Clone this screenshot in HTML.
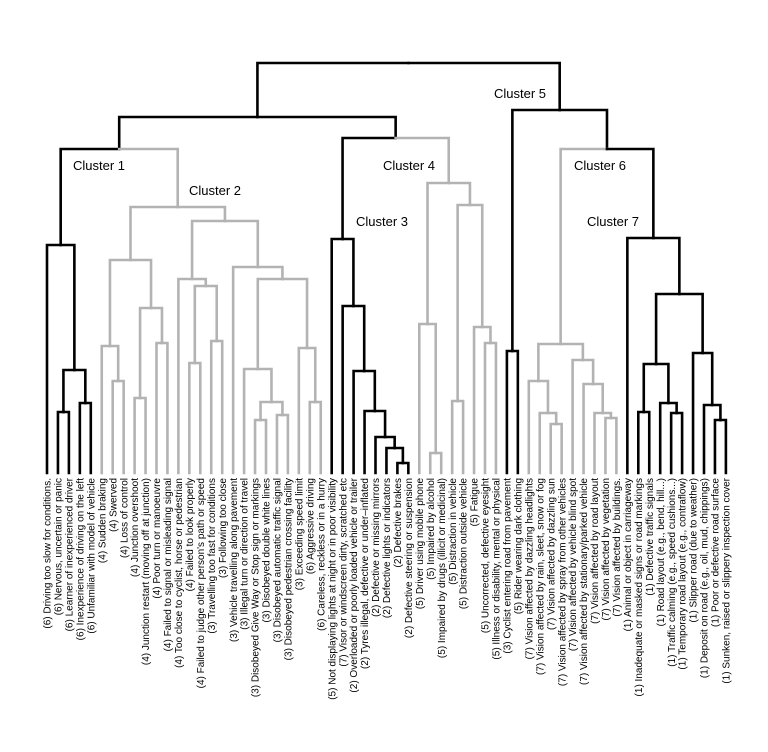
<!DOCTYPE html>
<html><head><meta charset="utf-8"><style>
html,body{margin:0;padding:0;background:#fff;}
svg{display:block;font-family:"Liberation Sans",sans-serif;}
</style></head><body>
<svg id="chart" width="768" height="752" viewBox="0 0 768 752" xmlns="http://www.w3.org/2000/svg">
<g id="links"></g>
<g id="labels"></g>
<g id="clabels"></g>
</svg>
<script>
const leafLabels = ["(6) Driving too slow for conditions.","(6) Nervous, uncertain or panic","(6) Learner of inexperienced driver","(6) Inexperience of driving on the left","(6) Unfamiliar with model of vehicle","(4) Sudden braking","(4) Swerved","(4) Loss of control","(4) Junction overshoot","(4) Junction restart (moving off at junction)","(4) Poor turn or manoeuvre","(4) Failed to signal or misleading signal","(4) Too close to cyclist, horse or pedestrian","(4) Failed to look properly","(4) Failed to judge other person's path or speed","(3) Travelling too fast for conditions","(3) Following too close","(3) Vehicle travelling along pavement","(3) Illegal turn or direction of travel","(3) Disobeyed Give Way or Stop sign or markings","(3) Disobeyed double white lines","(3) Disobeyed automatic traffic signal","(3) Disobeyed pedestrian crossing facility","(3) Exceeding speed limit","(6) Aggressive driving","(6) Careless, reckless or in a hurry","(5) Not displaying lights at night or in poor visibility","(7) Visor or windscreen dirty, scratched etc","(2) Overloaded or poorly loaded vehicle or trailer","(2) Tyres illegal, defective or under\u2013inflated","(2) Defective or missing mirrors","(2) Defective lights or indicators","(2) Defective brakes","(2) Defective steering or suspension","(5) Driver using mobile phone","(5) Impaired by alcohol","(5) Impaired by drugs (illicit or medicinal)","(5) Distraction in vehicle","(5) Distraction outside vehicle","(5) Fatigue","(5) Uncorrected, defective eyesight","(5) Illness or disability, mental or physical","(3) Cyclist entering road from pavement","(5) Rider wearing dark clothing","(7) Vision affected by dazzling headlights","(7) Vision affected by rain, sleet, snow or fog","(7) Vision affected by dazzling sun","(7) Vision affected by spray from other vehicles","(7) Vision affected by vehicle blind spot","(7) Vision affected by stationary/parked vehicle","(7) Vision affected by road layout","(7) Vision affected by vegetation","(7) Vision affected by buildings.","(1) Animal or object in carriageway","(1) Inadequate or masked signs or road markings","(1) Defective traffic signals","(1) Road layout (e.g., bend, hill...)","(1) Traffic calming (e.g., speed cushions...)","(1) Temporary road layout (e.g., contraflow)","(1) Slipper road (due to weather)","(1) Deposit on road (e.g., oil, mud, chippings)","(1) Poor or defective road surface","(1) Sunken, raised or slippery inspection cover"];
const leafCluster = [1,1,1,1,1,2,2,2,2,2,2,2,2,2,2,2,2,2,2,2,2,2,2,2,2,2,3,3,3,3,3,3,3,3,4,4,4,4,4,4,4,4,5,5,6,6,6,6,6,6,6,6,6,7,7,7,7,7,7,7,7,7,7];
const clusterNames = ["Cluster 1","Cluster 2","Cluster 3","Cluster 4","Cluster 5","Cluster 6","Cluster 7"];
const clusterGrey = [false,true,false,true,false,true,false];
const clusterLabelPos = [[73,170],[189,195],[356,226],[383,170],[494,98],[574,170],[587,226]];
// merge heights (distance units)
const c1 = [0,[[1,2,61],[3,4,70],103],228];
const c2 = [[[5,[6,7,92],127],[[8,9,75],[10,11,130],165],213],
            [[12,[[13,14,110],[15,16,132],187],194],
             [17,[[18,[[19,20,53],[21,22,58],71],104],[23,[24,25,71],125],194],206],252],266];
const c3 = [26,[27,[28,[29,[30,[31,[32,33,10],25],36],62],102],167],234];
const c4 = [[34,[35,36,20],149],[[37,38,72],[39,[40,41,130],146],268],290];
const c5 = [42,43,122];
const c6 = [[44,[45,[46,47,49],60],92],[48,[49,[50,[51,52,55],60],89],113],129];
const c7 = [53,[[[54,55,61],[56,[57,58,60],70],109],[59,[60,[61,62,53],68],120],179],235];
const tree = [[[c1,c2,324],[c3,c4,335],356],[c5,[c6,c7,324],363],410];

const NS="http://www.w3.org/2000/svg";
const x0=47, dx=10.95, baseY=473, unit=1;
const xS = i => x0 + i*dx;
const yS = h => baseY - h*unit;
const BLACK="#000", GREY="#b3b3b3";
const linksG=document.getElementById('links');

function layout(n){
  if(typeof n==="number") return {x:xS(n), y:yS(0), leaves:[n]};
  const a=layout(n[0]), b=layout(n[1]);
  const node={x:(a.x+b.x)/2, y:yS(n[2]), leaves:a.leaves.concat(b.leaves), kids:[a,b]};
  return node;
}
function colorOf(nd){
  const c=leafCluster[nd.leaves[0]];
  for(const l of nd.leaves) if(leafCluster[l]!==c) return BLACK;
  return clusterGrey[c-1]?GREY:BLACK;
}
function draw(nd){
  if(!nd.kids) return;
  for(const k of nd.kids){
    const p=document.createElementNS(NS,'path');
    p.setAttribute('d',`M${k.x},${k.y}V${nd.y}H${nd.x}`);
    p.setAttribute('fill','none');
    p.setAttribute('stroke',colorOf(k));
    p.setAttribute('stroke-width','2.6');
    p.setAttribute('stroke-linecap','square');
    
    
    linksG.appendChild(p);
    draw(k);
  }
}
const root=layout(tree);
draw(root);
// root top bar: draw root horizontal already covered via children
const labG=document.getElementById('labels');
leafLabels.forEach((t,i)=>{
  const x=xS(i)+3.6, y=baseY+5;
  const tx=document.createElementNS(NS,'text');
  tx.setAttribute('transform',`translate(${x},${y}) rotate(-90)`);
  tx.setAttribute('text-anchor','end');
  tx.setAttribute('font-size','10');
  tx.setAttribute('fill','#000');
  tx.textContent=t;
  
  
  labG.appendChild(tx);
});
const clG=document.getElementById('clabels');
clusterNames.forEach((t,i)=>{
  const tx=document.createElementNS(NS,'text');
  tx.setAttribute('x',clusterLabelPos[i][0]);
  tx.setAttribute('y',clusterLabelPos[i][1]);
  tx.setAttribute('font-size','13');
  tx.setAttribute('fill','#000');
  tx.textContent=t;
  
  
  clG.appendChild(tx);
});
</script>
</body></html>
